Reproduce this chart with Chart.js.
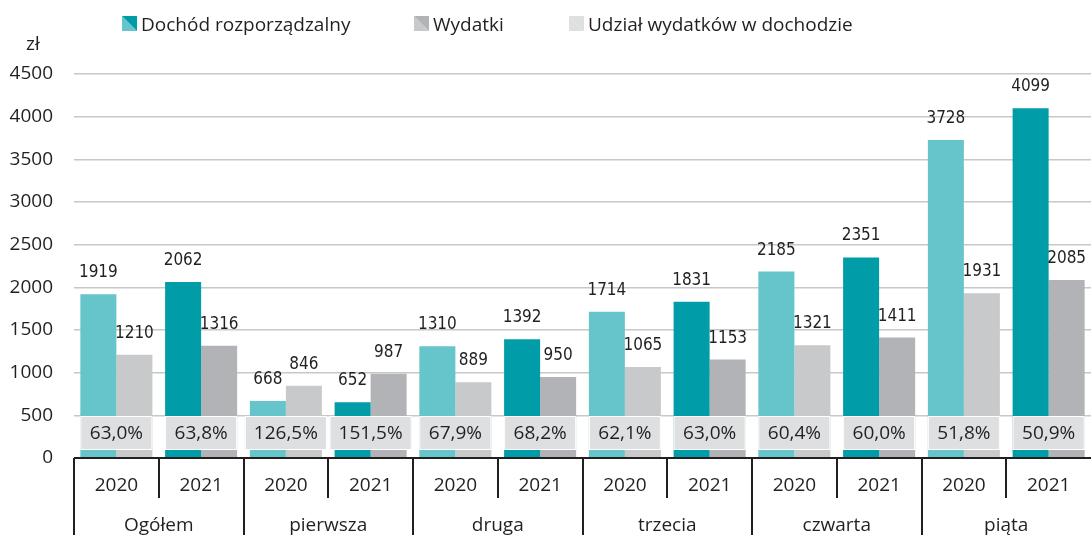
<!DOCTYPE html>
<html><head><meta charset="utf-8">
<script src="https://cdn.jsdelivr.net/npm/chart.js@4.4.0/dist/chart.umd.min.js"></script>
<style>html,body{margin:0;padding:0;background:#fff;} canvas{display:block;}</style>
</head><body>
<canvas id="c" width="1091" height="535"></canvas>
<script>
// ---- data ----
const years = ['2020','2021','2020','2021','2020','2021','2020','2021','2020','2021','2020','2021'];
const groups = ['Ogółem','pierwsza','druga','trzecia','czwarta','piąta'];
const dochod = [1919, 2062, 668, 652, 1310, 1392, 1714, 1831, 2185, 2351, 3728, 4099];
const wydatki = [1210, 1316, 846, 987, 889, 950, 1065, 1153, 1321, 1411, 1931, 2085];
const udzial = [63.0, 63.8, 126.5, 151.5, 67.9, 68.2, 62.1, 63.0, 60.4, 60.0, 51.8, 50.9];
const legendLabels = ['Dochód rozporządzalny', 'Wydatki', 'Udział wydatków w dochodzie'];
const unitLabel = 'zł';

// ---- style ----
const COL = {
  teal20: '#66C5CA', teal21: '#009CA7',
  grey20: '#C8C9CB', grey21: '#B2B3B6',
  box: '#DEDFE1', text: '#231F20', grid: '#C8C8C8'
};
const FONT = '"Open Sans", "Noto Sans", sans-serif';
const NARROW = '"Liberation Sans Narrow", "DejaVu Sans Condensed", sans-serif';

const tealColors = years.map(y => y === '2020' ? COL.teal20 : COL.teal21);
const greyColors = years.map(y => y === '2020' ? COL.grey20 : COL.grey21);

const fmtPct = v => v.toFixed(1).replace('.', ',') + '%';

const overlay = {
  id: 'overlay',
  afterDatasetsDraw(chart) {
    const ctx = chart.ctx;
    const ys = chart.scales.y;
    const m0 = chart.getDatasetMeta(0).data, m1 = chart.getDatasetMeta(1).data;
    ctx.save();
    // value labels
    ctx.font = '17px ' + NARROW;
    ctx.fillStyle = COL.text;
    ctx.textAlign = 'center';
    ctx.textBaseline = 'alphabetic';
    const drawLbl = (bar, v) => {
      const s = String(v);
      const w = ctx.measureText(s).width;
      let x = bar.x;
      if (x + w / 2 > chart.width) x = chart.width - w / 2;
      ctx.fillText(s, x, bar.y - 17);
    };
    m0.forEach((b, i) => drawLbl(b, dochod[i]));
    m1.forEach((b, i) => drawLbl(b, wydatki[i]));

    // percentage boxes
    ctx.font = '19px ' + FONT;
    const top = ys.getPixelForValue(492), bot = ys.getPixelForValue(94);
    udzial.forEach((v, i) => {
      const b0 = m0[i], b1 = m1[i];
      const l = b0.x - b0.width / 2, r = b1.x + b1.width / 2;
      const s = fmtPct(v);
      const tw = ctx.measureText(s).width;
      const w = Math.max(r - l, tw + 18);
      const cx = (l + r) / 2;
      ctx.fillStyle = COL.box;
      ctx.fillRect(cx - w / 2, top, w, bot - top);
      ctx.strokeStyle = '#ffffff';
      ctx.lineWidth = 1;
      ctx.strokeRect(cx - w / 2 + 0.5, top + 0.5, w - 1, bot - top - 1);
      ctx.fillStyle = COL.text;
      ctx.textBaseline = 'middle';
      ctx.fillText(s, cx, (top + bot) / 2 + 1);
    });
    ctx.restore();
  },
  afterDraw(chart) {
    const ctx = chart.ctx;
    const ys = chart.scales.y, xs = chart.scales.x;
    const ca = chart.chartArea;
    const y0 = ys.getPixelForValue(0);
    const cw = (ca.right - ca.left) / years.length;
    ctx.save();
    ctx.strokeStyle = COL.text;
    ctx.lineWidth = 2;
    ctx.beginPath();
    ctx.moveTo(ca.left, y0); ctx.lineTo(ca.right, y0);
    for (let i = 0; i < years.length; i++) {
      const x = Math.round(xs.getPixelForValue(i) - cw / 2);
      ctx.moveTo(x, y0);
      ctx.lineTo(x, i % 2 === 0 ? chart.height : y0 + 40);
    }
    ctx.stroke();
    ctx.fillStyle = COL.text;
    ctx.font = '19px ' + FONT;
    ctx.textAlign = 'center';
    ctx.textBaseline = 'alphabetic';
    years.forEach((y, i) => ctx.fillText(y, xs.getPixelForValue(i), y0 + 33));
    groups.forEach((g, k) => {
      const x = (xs.getPixelForValue(2 * k) + xs.getPixelForValue(2 * k + 1)) / 2;
      ctx.fillText(g, x, y0 + 73);
    });
    // unit
    ctx.textAlign = 'left';
    ctx.fillText(unitLabel, 26, 50);
    // legend
    const items = [
      { x: 122, a: COL.teal20, b: COL.teal21 },
      { x: 414, a: COL.grey20, b: COL.grey21 },
      { x: 569, a: COL.box, b: COL.box }
    ];
    const sy = 16, ss = 15;
    items.forEach((it, k) => {
      ctx.fillStyle = it.a;
      ctx.beginPath();
      ctx.moveTo(it.x, sy); ctx.lineTo(it.x, sy + ss); ctx.lineTo(it.x + ss, sy + ss); ctx.closePath();
      ctx.fill();
      ctx.fillStyle = it.b;
      ctx.beginPath();
      ctx.moveTo(it.x, sy); ctx.lineTo(it.x + ss, sy); ctx.lineTo(it.x + ss, sy + ss); ctx.closePath();
      ctx.fill();
      ctx.fillStyle = COL.text;
      ctx.fillText(legendLabels[k], it.x + ss + 4, sy + ss);
    });
    ctx.restore();
  }
};

new Chart(document.getElementById('c'), {
  type: 'bar',
  data: {
    labels: years.map((y, i) => groups[Math.floor(i / 2)] + ' ' + y),
    datasets: [
      { label: legendLabels[0], data: dochod, backgroundColor: tealColors },
      { label: legendLabels[1], data: wydatki, backgroundColor: greyColors }
    ]
  },
  options: {
    responsive: false,
    animation: false,
    devicePixelRatio: 1,
    layout: { padding: { top: 74, bottom: 77, left: 0, right: 0 } },
    datasets: { bar: { categoryPercentage: 0.85, barPercentage: 1.0 } },
    plugins: { legend: { display: false }, tooltip: { enabled: false } },
    scales: {
      x: { display: false },
      y: {
        min: 0, max: 4500,
        ticks: { stepSize: 500, padding: 21, color: COL.text, font: { family: FONT, size: 19 },
                 callback: v => String(v) },
        grid: { color: COL.grid, lineWidth: 1.5, drawTicks: false },
        border: { display: false },
        afterFit: s => { s.width = 74; }
      }
    }
  },
  plugins: [overlay]
});
</script>
</body></html>
